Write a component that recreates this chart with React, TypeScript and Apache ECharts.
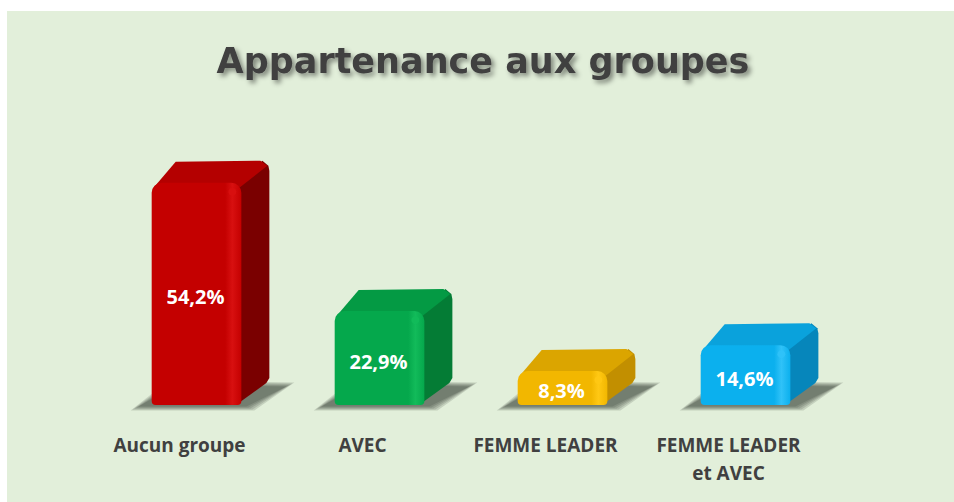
import React, { useEffect, useRef } from 'react';
import * as echarts from 'echarts';

const titleText = 'Appartenance aux groupes';
const categories = ['Aucun groupe', 'AVEC', 'FEMME LEADER', 'FEMME LEADER\net AVEC'];
const values = [54.2, 22.9, 8.3, 14.6];

const palette = [
  { front: '#c40000', edge: '#d81010', top: '#b40000', side: '#7a0000' },
  { front: '#05a84c', edge: '#12bb5a', top: '#049a44', side: '#047c35' },
  { front: '#f2b700', edge: '#ffc814', top: '#dba500', side: '#c28f00' },
  { front: '#0bb0ee', edge: '#30c2f8', top: '#0aa2dc', side: '#0686bb' },
];

const fmt = (v: number) => v.toFixed(1).replace('.', ',') + '%';

export default function App() {
  const ref = useRef<HTMLDivElement>(null);
  useEffect(() => {
    if (!ref.current) return;
    const chart = echarts.init(ref.current, undefined, { renderer: 'svg' });
    const option: any = {
      animation: false,
      backgroundColor: '#e2efda',
      graphic: [
        {
          type: 'text',
          x: 476,
          y: 50,
          style: {
            text: titleText,
            fill: '#404040',
            font: 'bold 35px "DejaVu Sans"',
            textAlign: 'center',
            textVerticalAlign: 'middle',
            textShadowColor: 'rgba(0,0,0,0.45)',
            textShadowBlur: 5,
            textShadowOffsetX: 3,
            textShadowOffsetY: 3,
          },
        },
      ],
      grid: { left: 81, width: 732, top: 148, bottom: 97, containLabel: false },
      xAxis: {
        type: 'category',
        data: categories,
        axisLine: { show: false },
        axisTick: { show: false },
        axisLabel: {
          color: '#404040',
          fontFamily: 'Open Sans',
          fontWeight: 'bold',
          fontSize: 19,
          lineHeight: 28,
          margin: 26,
          interval: 0,
        },
      },
      yAxis: {
        type: 'value',
        min: 0,
        max: 60,
        show: false,
        splitLine: { show: false },
      },
      series: [
        {
          type: 'custom',
          data: values.map((v, i) => [i, v]),
          encode: { x: 0, y: 1 },
          renderItem: (params: any, api: any) => {
            const idx = params.dataIndex;
            const i = api.value(0);
            const v = api.value(1);
            const t = api.coord([i, v]);
            const b = api.coord([i, 0]);
            const band = api.size([1, 0])[0];
            const w = band * 0.49;
            const off = band * 0.093;
            const cx = t[0] + off;
            const x0 = cx - w / 2;
            const x1 = cx + w / 2;
            const yt = t[1];
            const yb = b[1];
            const dx = 28;
            const dy = -22;
            const c = palette[idx];
            const shadows: any[] = [];
            [9, 7, 5, 3, 1].forEach((s) => {
              shadows.push({
                type: 'polygon',
                shape: {
                  points: [
                    [x0 - 12 - s, yb + 1 + s * 0.5],
                    [x1 + 4 + s, yb + 1 + s * 0.5],
                    [x1 + dx + 16 + s, yb + dy + 4 - s * 0.5],
                    [x0 + dx - 2 - s, yb + dy + 2 - s * 0.5],
                  ],
                },
                style: { fill: 'rgba(20,30,20,0.14)' },
              });
            });
            return {
              type: 'group',
              children: [
                ...shadows,
                {
                  type: 'polygon',
                  shape: {
                    points: [
                      [x1 - 6, yt + 2],
                      [x1 + dx - 7, yt + dy],
                      [x1 + dx - 1, yt + dy + 5],
                      [x1 + dx, yt + dy + 10],
                      [x1 + dx, yb + dy - 5],
                      [x1 + dx - 3, yb + dy],
                      [x1 - 4, yb - 1],
                    ],
                  },
                  style: { fill: c.side },
                },
                {
                  type: 'polygon',
                  shape: {
                    points: [
                      [x0 + 1, yt + 6],
                      [x0 + dx - 4, yt + dy + 1],
                      [x1 + dx - 9, yt + dy],
                      [x1 + dx - 2, yt + dy + 5],
                      [x1 - 2, yt + 5],
                    ],
                  },
                  style: { fill: c.top },
                },
                {
                  type: 'rect',
                  shape: { x: x0, y: yt, width: w, height: yb - yt, r: [10, 10, 4, 4] },
                  style: {
                    fill: new echarts.graphic.LinearGradient(0, 0, 1, 0, [
                      { offset: 0, color: c.front },
                      { offset: 0.82, color: c.front },
                      { offset: 0.9, color: c.edge },
                      { offset: 1, color: c.front },
                    ]),
                  },
                },
                {
                  type: 'circle',
                  shape: { cx: x1 - 9, cy: yt + 9, r: 4 },
                  style: { fill: c.edge, opacity: 0.9 },
                },
                {
                  type: 'text',
                  x: cx - 1,
                  y: (yt + yb) / 2 + 3,
                  style: {
                    text: fmt(v),
                    fill: '#ffffff',
                    font: 'bold 20px "Open Sans"',
                    textAlign: 'center',
                    textVerticalAlign: 'middle',
                  },
                },
              ],
            };
          },
        },
      ],
    };
    chart.setOption(option);
    return () => chart.dispose();
  }, []);
  return (
    <div style={{ position: 'fixed', left: 0, top: 0, width: 954, height: 502, background: '#ffffff' }}>
      <div ref={ref} style={{ position: 'absolute', left: 7, top: 11, width: 947, height: 491 }} />
    </div>
  );
}
